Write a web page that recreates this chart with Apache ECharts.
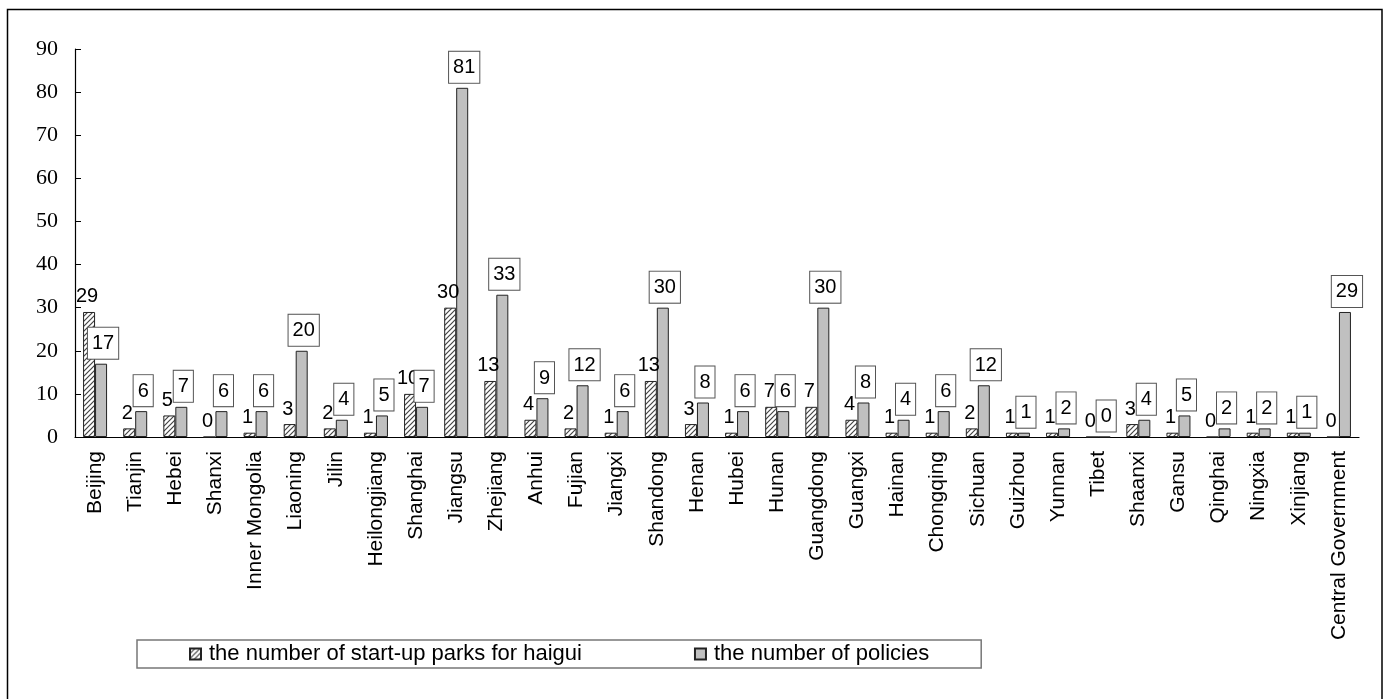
<!DOCTYPE html>
<html>
<head>
<meta charset="utf-8">
<script src="https://cdn.jsdelivr.net/npm/echarts@6/dist/echarts.min.js"></script>
<style>
  html, body { margin: 0; padding: 0; background: #fff; }
  #chart { width: 1384px; height: 699px; }
</style>
</head>
<body>
<div id="chart"></div>
<script>
// Regions (provinces plus central government)
const categories = [
  'Beijing', 'Tianjin', 'Hebei', 'Shanxi', 'Inner Mongolia', 'Liaoning', 'Jilin',
  'Heilongjiang', 'Shanghai', 'Jiangsu', 'Zhejiang', 'Anhui', 'Fujian', 'Jiangxi',
  'Shandong', 'Henan', 'Hubei', 'Hunan', 'Guangdong', 'Guangxi', 'Hainan',
  'Chongqing', 'Sichuan', 'Guizhou', 'Yunnan', 'Tibet', 'Shaanxi', 'Gansu',
  'Qinghai', 'Ningxia', 'Xinjiang', 'Central Government'
];

// Start-up parks for returnees, per region
const parks = [29, 2, 5, 0, 1, 3, 2, 1, 10, 30, 13, 4, 2, 1, 13, 3, 1, 7, 7, 4, 1, 1, 2, 1, 1, 0, 3, 1, 0, 1, 1, 0];

// Policies issued, per region
const policies = [17, 6, 7, 6, 6, 20, 4, 5, 7, 81, 33, 9, 12, 6, 30, 8, 6, 6, 30, 8, 4, 6, 12, 1, 2, 0, 4, 5, 2, 2, 1, 29];

const seriesNames = ['the number of start-up parks for haigui', 'the number of policies'];

// Diagonal hatch fill for the parks series
function makeHatch() {
  const c = document.createElement('canvas');
  const s = 5;
  c.width = s; c.height = s;
  const g = c.getContext('2d');
  g.fillStyle = '#ffffff';
  g.fillRect(0, 0, s, s);
  g.strokeStyle = '#444444';
  g.lineWidth = 1.2;
  g.beginPath();
  g.moveTo(-1, s + 1); g.lineTo(s + 1, -1);
  g.moveTo(-1, 1); g.lineTo(1, -1);
  g.moveTo(s - 1, s + 1); g.lineTo(s + 1, s - 1);
  g.stroke();
  return c;
}

const sans = '"Liberation Sans", Arial, sans-serif';
const serif = '"Liberation Serif", "Times New Roman", serif';

const chart = echarts.init(document.getElementById('chart'), null, { renderer: 'canvas' });

chart.setOption({
  animation: false,
  backgroundColor: '#ffffff',
  graphic: [{
    type: 'rect',
    shape: { x: 7.5, y: 9.5, width: 1374.5, height: 700 },
    style: { fill: 'none', stroke: '#000', lineWidth: 1.5 },
    silent: true
  }],
  grid: { left: 75, right: 25, top: 49, bottom: 262, containLabel: false },
  legend: {
    left: 137, top: 640,
    padding: [3, 52, 3, 52],
    itemGap: 112,
    itemWidth: 11, itemHeight: 11,
    icon: 'rect',
    borderColor: '#777', borderWidth: 1.5,
    textStyle: { fontFamily: sans, fontSize: 22, color: '#000', padding: [0, 0, 0, 3] },
    data: seriesNames
  },
  xAxis: {
    type: 'category',
    data: categories,
    axisLine: { lineStyle: { color: '#000', width: 1.2 } },
    axisTick: { inside: true, length: 6, lineStyle: { color: '#000' } },
    axisLabel: {
      rotate: 90, interval: 0, margin: 14,
      fontFamily: sans, fontSize: 21, color: '#000'
    }
  },
  yAxis: {
    type: 'value',
    min: 0, max: 90, interval: 10,
    splitLine: { show: false },
    axisLine: { show: true, lineStyle: { color: '#000', width: 1.2 } },
    axisTick: { show: true, inside: true, length: 6, lineStyle: { color: '#000' } },
    axisLabel: { margin: 17, fontFamily: serif, fontSize: 22, color: '#000' }
  },
  series: [
    {
      name: seriesNames[0],
      type: 'bar',
      data: parks,
      barWidth: 12,
      barGap: '0%',
      itemStyle: {
        color: { image: makeHatch(), repeat: 'repeat' },
        borderColor: '#222', borderWidth: 1
      },
      label: {
        show: true, position: 'top', distance: 5, offset: [-2, 0],
        fontFamily: sans, fontSize: 20, color: '#000'
      }
    },
    {
      name: seriesNames[1],
      type: 'bar',
      data: policies,
      barWidth: 12,
      itemStyle: { color: '#c0c0c0', borderColor: '#222', borderWidth: 1 },
      label: {
        show: true, position: 'top', distance: 5, offset: [2, 0],
        fontFamily: sans, fontSize: 20, color: '#000',
        backgroundColor: '#fff', borderColor: '#555', borderWidth: 1,
        padding: [6, 4, 5, 4]
      }
    }
  ]
});
</script>
</body>
</html>
